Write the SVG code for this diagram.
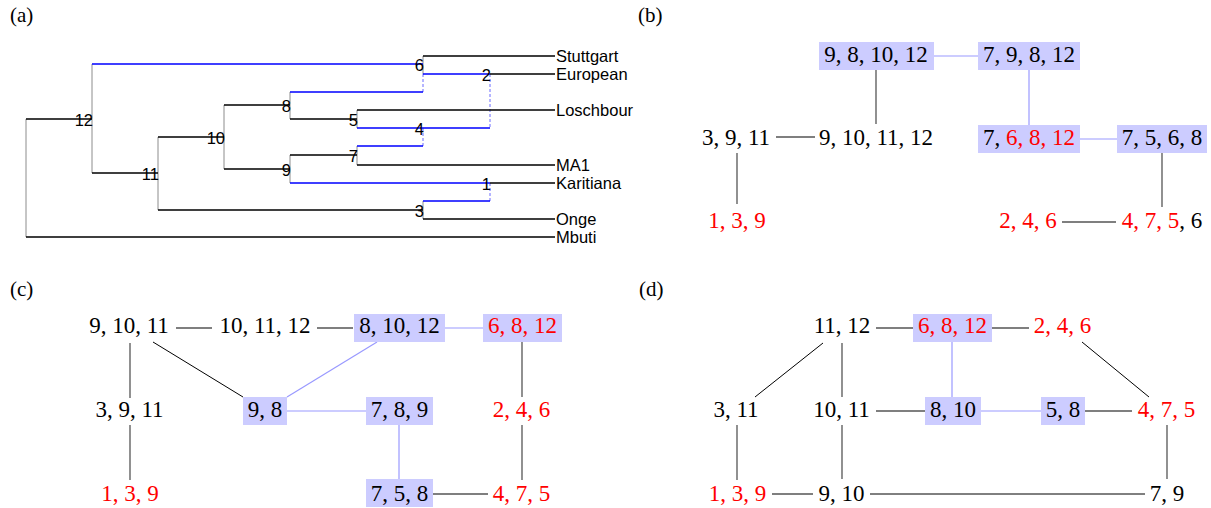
<svg xmlns="http://www.w3.org/2000/svg" width="1211" height="508" viewBox="0 0 1211 508">
  <style>
    .bg{fill:#ffffff}
    .panel{font-family:"Liberation Serif","DejaVu Serif",serif;font-size:21px;fill:#000}
    .lf{font-family:"Liberation Sans",Arial,sans-serif;font-size:16.5px;fill:#000}
    .nl{font-family:"Liberation Sans",Arial,sans-serif;font-size:16.5px;fill:#000;text-anchor:end}
    .tb{stroke:#000;stroke-width:1.5;fill:none}
    .tu{stroke:#0000ff;stroke-width:1.5;fill:none}
    .tv{stroke:#8c8c8c;stroke-width:1;fill:none}
    .td{stroke:#6b6bff;stroke-width:1;stroke-dasharray:3 2;fill:none}
    .m{font-family:"Liberation Serif","DejaVu Serif",serif;font-size:23px;fill:#000;text-anchor:middle}
    .r{fill:#ff0000}
    .box{fill:#ccccff}
    .e{stroke:#555;stroke-width:1.3;fill:none}
    .ed{stroke:#000;stroke-width:1;fill:none}
    .eb{stroke:#9999ff;stroke-width:1.2;fill:none}
  </style>
  <rect class="bg" x="0" y="0" width="1211" height="508"/>

  <!-- panel letters -->
  <text class="panel" x="10" y="22">(a)</text>
  <text class="panel" x="638" y="22">(b)</text>
  <text class="panel" x="10" y="296">(c)</text>
  <text class="panel" x="639" y="296">(d)</text>

  <!-- (a) admixture graph drawn as a tree -->
  <g id="tree">
    <g id="tree-verticals">
      <path class="tv" d="M26 119V237 M92 64V173 M158 137V210 M224 105V169 M290 92V119 M290 155V183 M357 110V128 M357 146V165 M423 56V74 M423 201V219"/>
    </g>
    <g id="tree-admixture">
      <path class="td" d="M423 74V92 M490 74V128 M423 128V146 M490 183V201"/>
    </g>
    <g id="tree-edges">
      <path class="tb" d="M26 119H92 M26 237H555 M92 173H158 M158 137H224 M158 210H423 M224 105H290 M224 169H290 M290 119H357 M290 155H357 M357 110H555 M357 165H555 M423 56H555 M490 74H555 M490 183H555 M423 219H555"/>
      <path class="tu" d="M92 64H423 M290 92H423 M290 183H490 M357 128H490 M357 146H423 M423 74H490 M423 201H490"/>
    </g>
    <g id="tree-node-labels">
      <text class="nl" x="93" y="126">12</text>
      <text class="nl" x="159" y="180">11</text>
      <text class="nl" x="225" y="144">10</text>
      <text class="nl" x="291" y="112">8</text>
      <text class="nl" x="291" y="176">9</text>
      <text class="nl" x="424" y="71">6</text>
      <text class="nl" x="491" y="81">2</text>
      <text class="nl" x="358" y="126">5</text>
      <text class="nl" x="424" y="135">4</text>
      <text class="nl" x="358" y="162">7</text>
      <text class="nl" x="491" y="190">1</text>
      <text class="nl" x="424" y="217">3</text>
    </g>
    <g id="tree-leaves">
      <text class="lf" x="556" y="62">Stuttgart</text>
      <text class="lf" x="556" y="80">European</text>
      <text class="lf" x="556" y="116">Loschbour</text>
      <text class="lf" x="556" y="171">MA1</text>
      <text class="lf" x="556" y="189">Karitiana</text>
      <text class="lf" x="556" y="225">Onge</text>
      <text class="lf" x="556" y="243">Mbuti</text>
    </g>
  </g>

  <!-- (b) -->
  <g id="b-edges">
    <line class="eb" x1="934" y1="56" x2="978" y2="56"/>
    <line class="e" x1="876" y1="70" x2="876" y2="124"/>
    <line class="e" x1="776" y1="137" x2="815" y2="137"/>
    <line class="e" x1="737" y1="153" x2="737" y2="204"/>
    <line class="eb" x1="1029" y1="70" x2="1029" y2="125"/>
    <line class="eb" x1="1080" y1="139" x2="1117" y2="139"/>
    <line class="e" x1="1162" y1="153" x2="1162" y2="207"/>
    <line class="e" x1="1062" y1="222" x2="1116" y2="222"/>
  </g>
  <g id="b-9-8-10-12"><rect class="box" x="819" y="42" width="115" height="28"/><text class="m" x="876" y="62">9, 8, 10, 12</text></g>
  <g id="b-7-9-8-12"><rect class="box" x="978" y="42" width="102" height="28"/><text class="m" x="1029" y="62">7, 9, 8, 12</text></g>
  <g id="b-3-9-11"><text class="m" x="736" y="145">3, 9, 11</text></g>
  <g id="b-9-10-11-12"><text class="m" x="876" y="145">9, 10, 11, 12</text></g>
  <g id="b-7-6-8-12"><rect class="box" x="978" y="125" width="102" height="28"/><text class="m" x="1029" y="145">7, <tspan class="r">6, 8, 12</tspan></text></g>
  <g id="b-7-5-6-8"><rect class="box" x="1117" y="125" width="90" height="28"/><text class="m" x="1162" y="145">7, 5, 6, 8</text></g>
  <g id="b-1-3-9"><text class="m r" x="737" y="228">1, 3, 9</text></g>
  <g id="b-2-4-6"><text class="m r" x="1028" y="228">2, 4, 6</text></g>
  <g id="b-4-7-5-6"><text class="m" x="1162" y="228"><tspan class="r">4, 7, 5</tspan>, 6</text></g>

  <!-- (c) -->
  <g id="c-edges">
    <line class="e" x1="176" y1="328" x2="212" y2="328"/>
    <line class="e" x1="317" y1="328" x2="353" y2="328"/>
    <line class="eb" x1="445" y1="328" x2="483" y2="328"/>
    <line class="e" x1="522" y1="342" x2="522" y2="397"/>
    <line class="e" x1="522" y1="425" x2="522" y2="480"/>
    <line class="e" x1="433" y1="494" x2="488" y2="494"/>
    <line class="eb" x1="399" y1="425" x2="399" y2="480"/>
    <line class="eb" x1="287" y1="411" x2="366" y2="411"/>
    <line class="eb" x1="287" y1="397" x2="377" y2="342"/>
    <line class="ed" x1="153" y1="342" x2="243" y2="397"/>
    <line class="e" x1="130" y1="343" x2="130" y2="398"/>
    <line class="e" x1="130" y1="425" x2="130" y2="480"/>
  </g>
  <g id="c-9-10-11"><text class="m" x="129" y="333">9, 10, 11</text></g>
  <g id="c-10-11-12"><text class="m" x="265" y="333">10, 11, 12</text></g>
  <g id="c-8-10-12"><rect class="box" x="354" y="314" width="91" height="28"/><text class="m" x="399.5" y="333">8, 10, 12</text></g>
  <g id="c-6-8-12"><rect class="box" x="483" y="314" width="79" height="28"/><text class="m r" x="522.5" y="333">6, 8, 12</text></g>
  <g id="c-3-9-11"><text class="m" x="129.5" y="417">3, 9, 11</text></g>
  <g id="c-9-8"><rect class="box" x="243" y="397" width="44" height="28"/><text class="m" x="265" y="417">9, 8</text></g>
  <g id="c-7-8-9"><rect class="box" x="366" y="397" width="67" height="28"/><text class="m" x="399.5" y="417">7, 8, 9</text></g>
  <g id="c-2-4-6"><text class="m r" x="521.5" y="417">2, 4, 6</text></g>
  <g id="c-1-3-9"><text class="m r" x="130" y="501">1, 3, 9</text></g>
  <g id="c-7-5-8"><rect class="box" x="366" y="479" width="67" height="28"/><text class="m" x="399.5" y="501">7, 5, 8</text></g>
  <g id="c-4-7-5"><text class="m r" x="521.5" y="501">4, 7, 5</text></g>

  <!-- (d) -->
  <g id="d-edges">
    <line class="e" x1="876" y1="328" x2="913" y2="328"/>
    <line class="e" x1="992" y1="328" x2="1029" y2="328"/>
    <line class="ed" x1="1082" y1="342" x2="1149" y2="397"/>
    <line class="eb" x1="952" y1="342" x2="952" y2="397"/>
    <line class="eb" x1="981" y1="411" x2="1041" y2="411"/>
    <line class="e" x1="1085" y1="411" x2="1132" y2="411"/>
    <line class="e" x1="876" y1="411" x2="925" y2="411"/>
    <line class="e" x1="842" y1="343" x2="842" y2="397"/>
    <line class="e" x1="842" y1="425" x2="842" y2="479"/>
    <line class="e" x1="1167" y1="425" x2="1167" y2="479"/>
    <line class="ed" x1="870" y1="494" x2="1145" y2="494"/>
    <line class="e" x1="772" y1="494" x2="813" y2="494"/>
    <line class="e" x1="737" y1="425" x2="737" y2="480"/>
    <line class="ed" x1="823" y1="343" x2="755" y2="397"/>
  </g>
  <g id="d-11-12"><text class="m" x="842" y="333">11, 12</text></g>
  <g id="d-6-8-12"><rect class="box" x="913" y="314" width="79" height="28"/><text class="m r" x="952.5" y="333">6, 8, 12</text></g>
  <g id="d-2-4-6"><text class="m r" x="1062.5" y="333">2, 4, 6</text></g>
  <g id="d-3-11"><text class="m" x="736" y="417">3, 11</text></g>
  <g id="d-10-11"><text class="m" x="841.5" y="417">10, 11</text></g>
  <g id="d-8-10"><rect class="box" x="925" y="397" width="56" height="28"/><text class="m" x="953" y="417">8, 10</text></g>
  <g id="d-5-8"><rect class="box" x="1041" y="397" width="44" height="28"/><text class="m" x="1063" y="417">5, 8</text></g>
  <g id="d-4-7-5"><text class="m r" x="1166.5" y="417">4, 7, 5</text></g>
  <g id="d-1-3-9"><text class="m r" x="737.5" y="501">1, 3, 9</text></g>
  <g id="d-9-10"><text class="m" x="841.5" y="501">9, 10</text></g>
  <g id="d-7-9"><text class="m" x="1167" y="501">7, 9</text></g>
</svg>
